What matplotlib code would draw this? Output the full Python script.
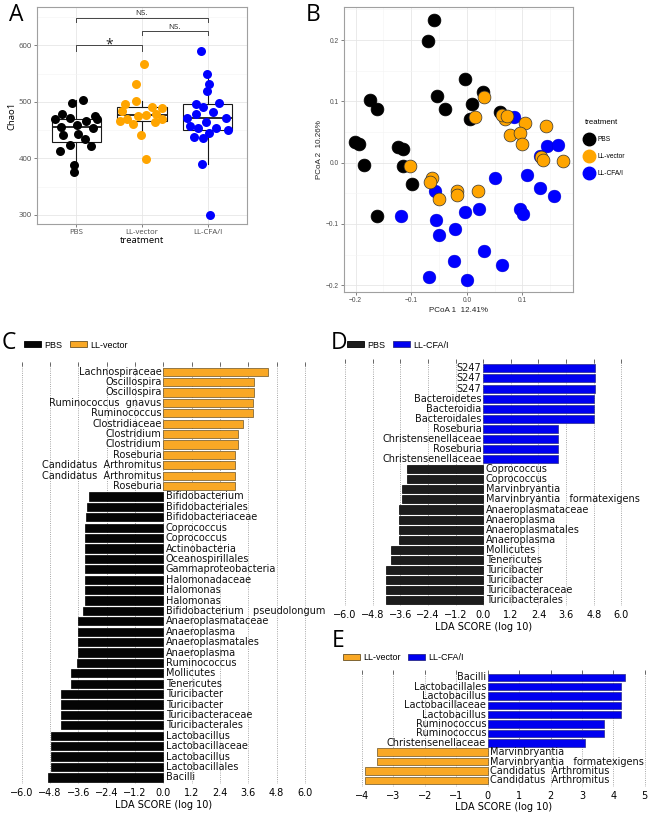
import matplotlib
matplotlib.use('Agg')
import matplotlib.pyplot as plt
from matplotlib.patches import Patch
from matplotlib.lines import Line2D
import numpy as np

# ---- panel A: Chao1 per treatment ----
groups = ['PBS', 'LL-vector', 'LL-CFA/I']
group_colors = ['#000000', '#FFA500', '#0000FF']

pbs_chao = [498, 504, 469, 478, 471, 476, 469, 466, 456, 459, 454, 441, 444, 435, 424, 422, 414, 389, 376]
pbs_jit = [-0.065, 0.095, -0.32, -0.22, -0.09, 0.28, 0.32, 0.15, -0.23, 0.01, 0.25, -0.21, 0.02, 0.13, -0.09, 0.23, -0.25, -0.03, -0.03]
vec_chao = [567, 532, 502, 496, 491, 490, 484, 476, 477, 479, 466, 469, 461, 464, 470, 441, 399]
vec_jit = [0.025, -0.085, -0.095, -0.26, 0.155, 0.30, -0.3, -0.06, 0.065, 0.22, -0.33, -0.23, -0.135, 0.2, 0.31, -0.01, 0.065]
cfa_chao = [591, 550, 531, 519, 497, 491, 498, 478, 482, 471, 465, 472, 458, 453, 454, 451, 445, 438, 436, 391, 300]
cfa_jit = [-0.1, -0.015, 0.025, -0.015, -0.175, -0.065, 0.175, -0.175, 0.075, -0.32, -0.025, 0.275, -0.27, -0.14, 0.125, 0.305, 0.025, -0.215, -0.065, -0.085, 0.035]

# ---- panel B: PCoA coordinates ----
pbs_pc1 = [-0.059, -0.069, -0.003, 0.029, -0.054, 0.010, -0.039, 0.059, 0.006, -0.175, -0.161, -0.202, -0.194, -0.123, -0.115, -0.185, -0.114, -0.099, -0.162]
pbs_pc2 = [0.233, 0.199, 0.137, 0.116, 0.109, 0.095, 0.087, 0.083, 0.071, 0.102, 0.087, 0.033, 0.031, 0.026, 0.023, -0.004, -0.005, -0.034, -0.087]
vec_pc1 = [0.031, 0.015, 0.069, 0.063, 0.073, 0.105, 0.143, 0.078, 0.096, 0.100, 0.133, 0.137, 0.173, -0.102, -0.063, -0.066, -0.050, -0.017, -0.018, 0.020]
vec_pc2 = [0.107, 0.074, 0.072, 0.078, 0.076, 0.065, 0.060, 0.045, 0.049, 0.030, 0.010, 0.005, 0.003, -0.005, -0.025, -0.032, -0.059, -0.046, -0.053, -0.046]
cfa_pc1 = [0.085, 0.131, 0.145, 0.164, 0.051, 0.108, 0.132, 0.156, -0.057, -0.119, -0.056, -0.003, 0.022, -0.050, -0.021, 0.096, 0.101, 0.031, 0.064, -0.023, -0.068, 0.0]
cfa_pc2 = [0.074, 0.011, 0.027, 0.029, -0.025, -0.020, -0.042, -0.054, -0.047, -0.087, -0.093, -0.081, -0.075, -0.118, -0.109, -0.076, -0.083, -0.144, -0.167, -0.161, -0.186, -0.191]

# ---- panel C: LEfSe PBS vs LL-vector ----
c_names = ['Lachnospiraceae', 'Oscillospira', 'Oscillospira', 'Ruminococcus  gnavus', 'Ruminococcus',
           'Clostridiaceae', 'Clostridium', 'Clostridium', 'Roseburia', 'Candidatus  Arthromitus',
           'Candidatus  Arthromitus', 'Roseburia', 'Bifidobacterium', 'Bifidobacteriales', 'Bifidobacteriaceae',
           'Coprococcus', 'Coprococcus', 'Actinobacteria', 'Oceanospirillales', 'Gammaproteobacteria',
           'Halomonadaceae', 'Halomonas', 'Halomonas', 'Bifidobacterium   pseudolongum', 'Anaeroplasmataceae',
           'Anaeroplasma', 'Anaeroplasmatales', 'Anaeroplasma', 'Ruminococcus', 'Mollicutes', 'Tenericutes',
           'Turicibacter', 'Turicibacter', 'Turicibacteraceae', 'Turicibacterales', 'Lactobacillus',
           'Lactobacillaceae', 'Lactobacillus', 'Lactobacillales', 'Bacilli']
c_lda = [4.42, 3.86, 3.86, 3.81, 3.81, 3.36, 3.18, 3.15, 3.05, 3.05, 3.05, 3.02,
         -3.15, -3.24, -3.27, -3.30, -3.30, -3.32, -3.33, -3.33, -3.33, -3.33, -3.33, -3.39,
         -3.60, -3.60, -3.60, -3.60, -3.64, -3.92, -3.92, -4.32, -4.32, -4.32, -4.32,
         -4.77, -4.77, -4.77, -4.76, -4.90]

# ---- panel D: LEfSe PBS vs LL-CFA/I ----
d_names = ['S247', 'S247', 'S247', 'Bacteroidetes', 'Bacteroidia', 'Bacteroidales', 'Roseburia',
           'Christensenellaceae', 'Roseburia', 'Christensenellaceae', 'Coprococcus', 'Coprococcus',
           'Marvinbryantia', 'Marvinbryantia   formatexigens', 'Anaeroplasmataceae', 'Anaeroplasma',
           'Anaeroplasmatales', 'Anaeroplasma', 'Mollicutes', 'Tenericutes', 'Turicibacter', 'Turicibacter',
           'Turicibacteraceae', 'Turicibacterales']
d_lda = [4.84, 4.84, 4.84, 4.83, 4.83, 4.83, 3.26, 3.26, 3.26, 3.25,
         -3.29, -3.29, -3.54, -3.54, -3.65, -3.65, -3.65, -3.65, -3.99, -3.99,
         -4.20, -4.20, -4.20, -4.20]

# ---- panel E: LEfSe LL-vector vs LL-CFA/I ----
e_names = ['Bacilli', 'Lactobacillales', 'Lactobacillus', 'Lactobacillaceae', 'Lactobacillus', 'Ruminococcus',
           'Ruminococcus', 'Christensenellaceae', 'Marvinbryantia', 'Marvinbryantia   formatexigens',
           'Candidatus  Arthromitus', 'Candidatus  Arthromitus']
e_lda = [4.36, 4.25, 4.25, 4.25, 4.25, 3.70, 3.70, 3.11, -3.51, -3.51, -3.91, -3.91]

c_ticks = [-6.0, -4.8, -3.6, -2.4, -1.2, 0.0, 1.2, 2.4, 3.6, 4.8, 6.0]
e_ticks = [-4, -3, -2, -1, 0, 1, 2, 3, 4, 5]

BAR_BLACK = '#050505'
BAR_ORANGE = '#F9A825'
BAR_BLUE = '#0000F0'

fig = plt.figure(figsize=(6.53, 8.16), dpi=100)
W, H = 653.0, 816.0


def box(l, t, r, b):
    return [l / W, 1 - b / H, (r - l) / W, (b - t) / H]


def panel_label(x, y, s):
    fig.text(x / W, 1 - y / H, s, fontsize=16.5, family='Open Sans', ha='center', va='center')


# ---------- A ----------
axA = fig.add_axes(box(37, 7, 247, 224))
chao = [pbs_chao, vec_chao, cfa_chao]
jits = [pbs_jit, vec_jit, cfa_jit]
axA.boxplot(chao, positions=[1, 2, 3], widths=0.75, showfliers=False, patch_artist=True,
            boxprops=dict(facecolor='white', edgecolor='#1a1a1a', lw=0.8),
            whiskerprops=dict(color='#1a1a1a', lw=0.8), capprops=dict(lw=0),
            medianprops=dict(color='#1a1a1a', lw=1.3), zorder=2)
for i in range(3):
    axA.scatter(np.array(jits[i]) + i + 1, chao[i], s=42, color=group_colors[i], lw=0, zorder=3)
axA.set_xlim(0.4, 3.6)
axA.set_ylim(284, 668)
axA.set_yticks([300, 400, 500, 600])
axA.set_yticks([350, 450, 550, 650], minor=True)
axA.set_xticks([1, 2, 3])
axA.set_xticklabels(groups)
axA.grid(which='major', color='#e6e6e6', lw=0.6)
axA.grid(which='minor', axis='y', color='#f3f3f3', lw=0.4)
axA.set_axisbelow(True)
for s in axA.spines.values():
    s.set_color('#a0a0a0')
    s.set_linewidth(0.8)
axA.tick_params(labelsize=5.6, colors='#4d4d4d', length=2, width=0.5, pad=1.5)
axA.tick_params(which='minor', length=0)
for lab in axA.get_xticklabels() + axA.get_yticklabels():
    lab.set_family('Open Sans')
axA.set_xlabel('treatment', fontsize=6.8, family='Open Sans', labelpad=0.3)
axA.set_ylabel('Chao1', fontsize=6.8, family='Open Sans', labelpad=2)
brk = '#444444'
axA.plot([1, 1, 3, 3], [641, 649, 649, 641], color=brk, lw=0.7)
axA.plot([2, 2, 3, 3], [618, 625, 625, 618], color=brk, lw=0.7)
axA.plot([1, 1, 2, 2], [591, 600, 600, 591], color=brk, lw=0.7)
axA.text(2, 650, 'NS.', fontsize=5.8, family='Open Sans', ha='center', va='bottom', color='#222222')
axA.text(2.5, 626, 'NS.', fontsize=5.8, family='Open Sans', ha='center', va='bottom', color='#222222')
axA.text(1.5, 600, '*', fontsize=10, family='Open Sans', ha='center', va='center', color='#222222')
panel_label(16, 15, 'A')

# ---------- B ----------
axB = fig.add_axes(box(344, 7, 573, 292))
axB.set_xlim(-0.221, 0.191)
axB.set_ylim(-0.211, 0.254)
axB.set_xticks([-0.2, -0.1, 0.0, 0.1])
axB.set_xticks([-0.15, -0.05, 0.05, 0.15], minor=True)
axB.set_yticks([-0.2, -0.1, 0.0, 0.1, 0.2])
axB.set_yticks([-0.15, -0.05, 0.05, 0.15, 0.25], minor=True)
axB.grid(which='major', color='#e6e6e6', lw=0.6)
axB.grid(which='minor', color='#f3f3f3', lw=0.4)
axB.set_axisbelow(True)
axB.scatter(pbs_pc1, pbs_pc2, s=85, color='#000000', edgecolors='#000000', lw=0.5, zorder=3)
axB.scatter(cfa_pc1, cfa_pc2, s=85, color='#0000FF', edgecolors='#0000CC', lw=0.3, zorder=3)
axB.scatter(vec_pc1, vec_pc2, s=85, color='#FFA500', edgecolors='#333333', lw=0.5, zorder=3)
for s in axB.spines.values():
    s.set_color('#a0a0a0')
    s.set_linewidth(0.8)
axB.tick_params(labelsize=4.8, colors='#4d4d4d', length=2, width=0.5, pad=1.5)
axB.tick_params(which='minor', length=0)
for lab in axB.get_xticklabels() + axB.get_yticklabels():
    lab.set_family('Liberation Sans')
axB.set_xlabel('PCoA 1  12.41%', fontsize=5.8, family='Liberation Sans', labelpad=2, color='#222222')
axB.set_ylabel('PCoA 2  10.26%', fontsize=5.8, family='Liberation Sans', labelpad=2, color='#222222')
handles = [Line2D([], [], marker='o', ls='', markersize=9, markerfacecolor=c, markeredgecolor=c)
           for c in ['#000000', '#FFA500', '#0000FF']]
legB = fig.legend(handles, groups, title='treatment', loc='upper left',
                  bbox_to_anchor=(582 / W, 1 - 116 / H), frameon=False, borderpad=0,
                  prop={'family': 'Liberation Sans', 'size': 4.8}, handlelength=1.2,
                  handletextpad=0.6, labelspacing=1.5, alignment='left')
legB.get_title().set_fontsize(5.6)
legB.get_title().set_family('Liberation Sans')
panel_label(313, 15, 'B')


# ---------- LEfSe panels ----------
def lefse(ax, names, vals, neg_col, pos_col, neg_edge, pos_edge, ticks, xlim, pad_bottom, pad_top):
    n = len(names)
    pos = np.arange(n)[::-1]
    cols = [pos_col if v > 0 else neg_col for v in vals]
    edges = [pos_edge if v > 0 else neg_edge for v in vals]
    ax.barh(pos, vals, height=0.8, color=cols, edgecolor=edges, linewidth=0.5, zorder=2)
    for p, v, name in zip(pos, vals, names):
        if v > 0:
            ax.annotate(name, (0, p), xytext=(-1.2, 0), textcoords='offset points',
                        ha='right', va='center', fontsize=7, color='#111111')
        else:
            ax.annotate(name, (0, p), xytext=(1.8, 0), textcoords='offset points',
                        ha='left', va='center', fontsize=7, color='#111111')
    ax.set_xticks(ticks)
    ax.set_xlim(*xlim)
    ax.set_ylim(-pad_bottom, n - 1 + pad_top)
    ax.set_yticks([])
    ax.grid(axis='x', ls=':', color='#8a8a8a', lw=0.6)
    ax.set_axisbelow(True)
    for s in ax.spines.values():
        s.set_visible(False)
    ax.tick_params(axis='x', top=True, bottom=False, direction='in', length=3, width=0.6,
                   color='#555555', labelsize=7, pad=3)
    ax.set_xlabel('LDA SCORE (log 10)', fontsize=7, labelpad=1)


def lefse_legend(x, y, labels, colors, edges):
    hs = [Patch(facecolor=c, edgecolor=e, lw=0.6) for c, e in zip(colors, edges)]
    fig.legend(hs, labels, loc='center left', bbox_to_anchor=(x / W, 1 - y / H), ncol=2,
               frameon=False, borderpad=0, borderaxespad=0, handlelength=1.9, handleheight=0.6,
               handletextpad=0.35, columnspacing=0.8,
               prop={'family': 'Liberation Sans', 'size': 6.5})


EDGE_ORANGE = '#6b5224'
EDGE_BLUE = '#2a2a8a'

axC = fig.add_axes(box(12.3, 362, 314.3, 784))
lefse(axC, c_names, c_lda, BAR_BLACK, BAR_ORANGE, '#000000', EDGE_ORANGE, c_ticks, (-6.4, 6.4), 0.64, 0.93)
lefse_legend(24, 345, ['PBS', 'LL-vector'], [BAR_BLACK, BAR_ORANGE], ['#000000', EDGE_ORANGE])
panel_label(9, 343, 'C')

axD = fig.add_axes(box(335.8, 359, 630.6, 606))
lefse(axD, d_names, d_lda, '#1c1c1c', BAR_BLUE, '#000000', EDGE_BLUE, c_ticks, (-6.4, 6.4), 0.57, 0.93)
lefse_legend(347, 345, ['PBS', 'LL-CFA/I'], ['#1c1c1c', BAR_BLUE], ['#000000', EDGE_BLUE])
panel_label(339, 343, 'D')

axE = fig.add_axes(box(355.8, 669.5, 651, 786.7))
lefse(axE, e_names, e_lda, BAR_ORANGE, BAR_BLUE, EDGE_ORANGE, EDGE_BLUE, e_ticks, (-4.2, 5.2), 0.68, 0.83)
lefse_legend(343, 658, ['LL-vector', 'LL-CFA/I'], [BAR_ORANGE, BAR_BLUE], [EDGE_ORANGE, EDGE_BLUE])
panel_label(338, 641, 'E')

fig.savefig('out.png', dpi=100)
